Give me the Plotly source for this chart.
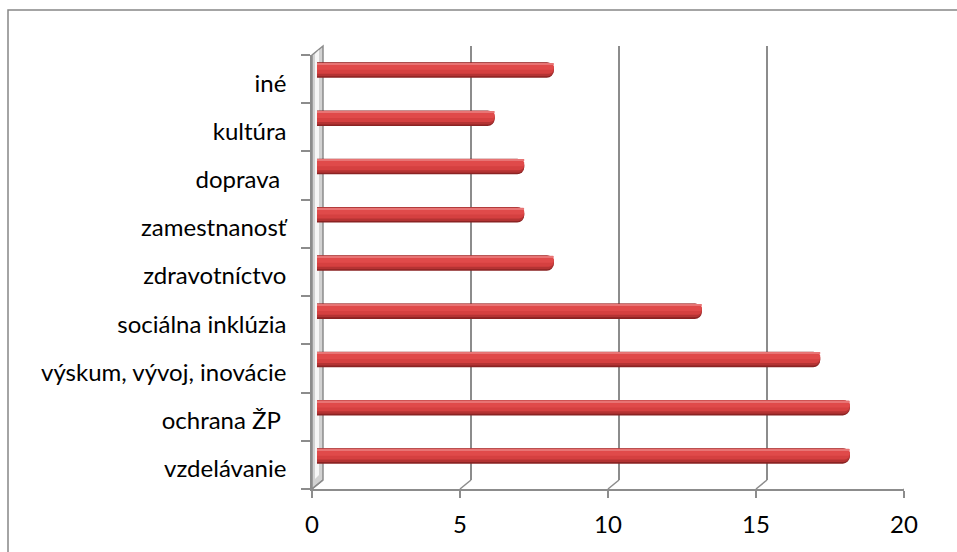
import plotly.graph_objects as go

# ---- data (bottom to top) ----
categories = ["vzdelávanie", "ochrana ŽP\u00a0", "výskum, vývoj, inovácie", "sociálna inklúzia",
              "zdravotníctvo", "zamestnanosť", "doprava\u00a0", "kultúra", "iné"]
values = [18, 18, 17, 13, 8, 7, 7, 6, 8]
x_ticks = [0, 5, 10, 15, 20]
x_range = [0, 20]

W, H = 957, 552
FONT = "Lato"
GRAY = "#8C8C8C"

def fx(p):
    return p / W

def fy(p):
    return 1 - p / H

# pixel geometry of the pseudo-3D box
FRONT_L, FRONT_R, FRONT_T, FRONT_B = 312, 904, 55, 489
DX, DY = 11, 9
BAR_L = 317

fig = go.Figure()

cat_px = (FRONT_B - FRONT_T) / len(categories)
layers = [  # (thickness px, centre shift up px, colour)
    (15.5, 0.0, "#8A2323"),
    (13.5, 0.6, "#B43333"),
    (10.5, 1.6, "#D54040"),
    (5.5, 3.0, "#E04A4A"),
    (1.5, 6.4, "#E87474"),
]
for th, sh, col in layers:
    w = th / cat_px
    off = sh / cat_px - w / 2
    fig.add_trace(go.Bar(
        x=values, y=categories, orientation="h",
        width=w, offset=off,
        marker=dict(color=col, line=dict(width=0), cornerradius="48%"),
        xaxis="x3", yaxis="y3", hoverinfo="skip", showlegend=False,
    ))

# invisible traces for front axes and back grid axes
fig.add_trace(go.Scatter(x=[None], y=[categories[0]], xaxis="x", yaxis="y", showlegend=False))
fig.add_trace(go.Scatter(x=[None], y=[None], xaxis="x2", yaxis="y2", showlegend=False))

axfont = dict(family=FONT, size=24, color="#000000")

fig.update_layout(
    width=W, height=H, autosize=False,
    margin=dict(l=0, r=0, t=0, b=0, autoexpand=False),
    paper_bgcolor="white", plot_bgcolor="rgba(0,0,0,0)",
    barmode="overlay", showlegend=False,
    xaxis=dict(domain=[fx(FRONT_L), fx(FRONT_R)], range=x_range, tickvals=x_ticks,
               showgrid=False, zeroline=False, showline=True, linecolor=GRAY, linewidth=1.5,
               ticks="outside", ticklen=7, tickcolor=GRAY, tickwidth=1.5,
               tickfont=axfont, anchor="y", ticklabelstandoff=6, automargin=False),
    yaxis=dict(domain=[fy(FRONT_B), fy(FRONT_T)], type="category", categoryarray=categories,
               categoryorder="array", range=[-0.5, len(categories) - 0.5],
               showgrid=False, zeroline=False, showline=True, linecolor=GRAY, linewidth=1.5,
               ticks="outside", ticklen=9, tickcolor=GRAY, tickwidth=1.5, tickson="boundaries",
               tickfont=axfont, anchor="x", ticklabelstandoff=19, ticklabelshift=4,
               automargin=False),
    xaxis2=dict(domain=[fx(FRONT_L + DX), fx(FRONT_R + DX)], range=x_range, tickvals=x_ticks,
                showgrid=True, gridcolor=GRAY, gridwidth=2, zeroline=False, showline=False,
                showticklabels=False, ticks="", anchor="y2"),
    yaxis2=dict(domain=[fy(FRONT_B - DY), fy(FRONT_T - DY)], range=[0, 1],
                showgrid=False, zeroline=False, showline=False, showticklabels=False,
                ticks="", anchor="x2"),
    xaxis3=dict(domain=[fx(BAR_L), fx(BAR_L + FRONT_R - FRONT_L)], range=x_range,
                showgrid=False, zeroline=False, showline=False, showticklabels=False,
                ticks="", anchor="y3"),
    yaxis3=dict(domain=[fy(FRONT_B - DY), fy(FRONT_T - DY)], type="category",
                categoryarray=categories, categoryorder="array",
                range=[-0.5, len(categories) - 0.5],
                showgrid=False, zeroline=False, showline=False, showticklabels=False,
                ticks="", anchor="x3"),
)

shapes = []
# outer chart frame (right and bottom edges fall outside the picture)
shapes.append(dict(type="rect", xref="paper", yref="paper",
                   x0=fx(8), x1=fx(W + 20), y0=fy(H + 20), y1=fy(10),
                   line=dict(color="#878787", width=1.5), fillcolor="rgba(0,0,0,0)", layer="below"))

def path(pts):
    return "M " + " L ".join(f"{fx(a):.5f},{fy(b):.5f}" for a, b in pts) + " Z"

# left side wall
wall = [(FRONT_L, FRONT_T), (FRONT_L + DX, FRONT_T - DY), (FRONT_L + DX, FRONT_B - DY), (FRONT_L, FRONT_B)]
shapes.append(dict(type="path", xref="paper", yref="paper", path=path(wall),
                   fillcolor="#D2D2D2", line=dict(color=GRAY, width=1.5), layer="below"))
band = [(FRONT_L + 3, FRONT_T - 1), (FRONT_L + 7, FRONT_T - 5), (FRONT_L + 7, FRONT_B - 14),
        (FRONT_L + 3, FRONT_B - 10)]
shapes.append(dict(type="path", xref="paper", yref="paper", path=path(band),
                   fillcolor="#F6F6F6", line=dict(width=0), layer="below"))

# floor diagonals at each x tick
for t in x_ticks:
    shapes.append(dict(type="line", xref="x", xsizemode="pixel", xanchor=t, x0=0, x1=DX,
                       yref="paper", ysizemode="pixel", yanchor=fy(FRONT_B), y0=0, y1=DY,
                       line=dict(color=GRAY, width=1.5)))

fig.update_layout(shapes=shapes)

fig.write_html("out.html", config={"displayModeBar": False},
               post_script="document.body.style.margin='0';"
                           "document.body.style.overflow='hidden';"
                           "document.documentElement.style.overflow='hidden';")
